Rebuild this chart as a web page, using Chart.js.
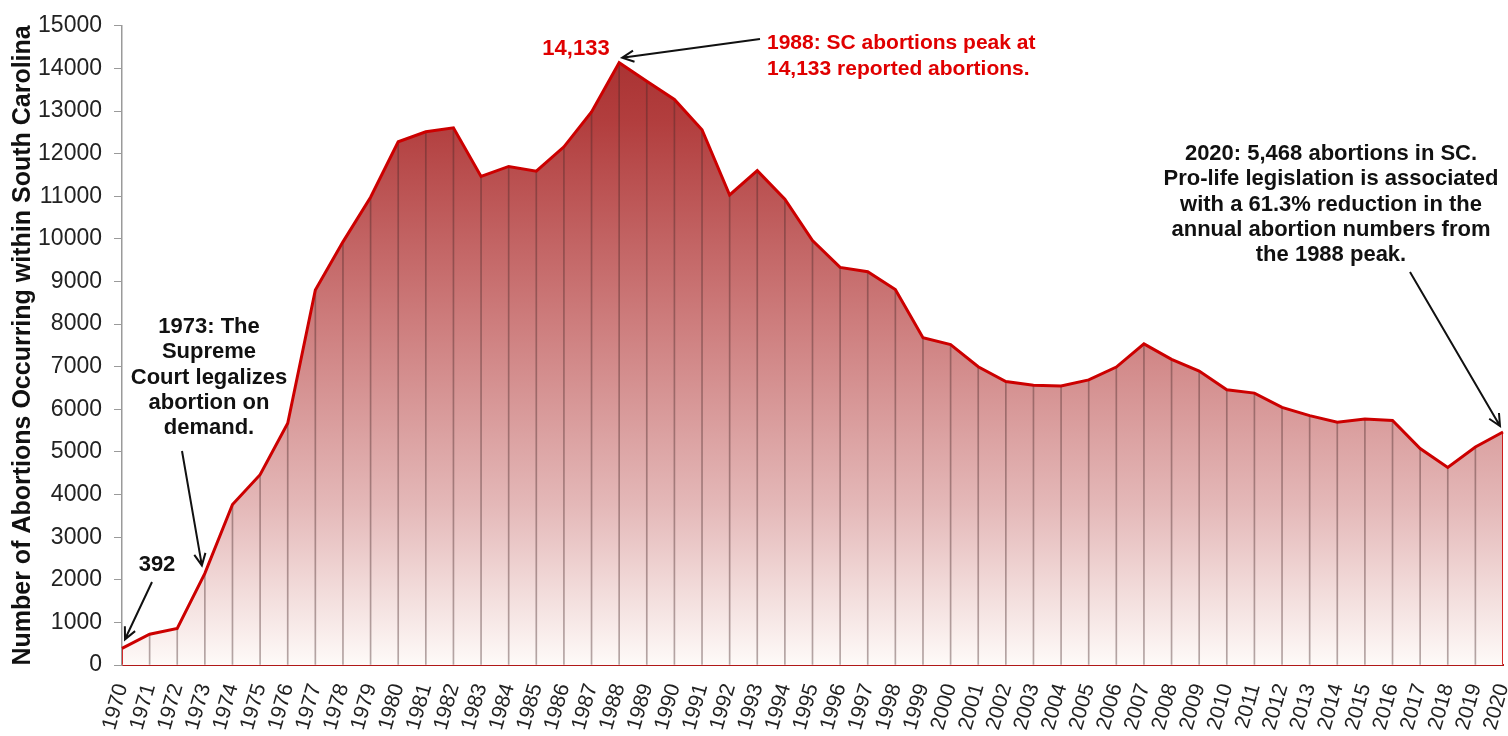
<!DOCTYPE html>
<html>
<head>
<meta charset="utf-8">
<script src="https://cdn.jsdelivr.net/npm/chart.js@4.4.0/dist/chart.umd.min.js"></script>
<style>
  html, body { margin: 0; padding: 0; background: #fff; }
  #wrap { width: 1508px; height: 736px; }
</style>
</head>
<body>
<div id="wrap"><canvas id="chart" width="1508" height="736"></canvas></div>
<script>
const years = [
    "1970", "1971", "1972", "1973", "1974", "1975", "1976", "1977", "1978", "1979",
    "1980", "1981", "1982", "1983", "1984", "1985", "1986", "1987", "1988", "1989",
    "1990", "1991", "1992", "1993", "1994", "1995", "1996", "1997", "1998", "1999",
    "2000", "2001", "2002", "2003", "2004", "2005", "2006", "2007", "2008", "2009",
    "2010", "2011", "2012", "2013", "2014", "2015", "2016", "2017", "2018", "2019",
    "2020"
];

// reported abortions per year
const abortions = [
    392, 721, 860, 2150, 3767, 4465, 5674, 8800, 9930, 10977,
    12279, 12512, 12605, 11465, 11700, 11590, 12160, 12980, 14133, 13700,
    13270, 12560, 11030, 11600, 10930, 9960, 9330, 9230, 8810, 7680,
    7520, 7000, 6651, 6566, 6550, 6690, 6992, 7535, 7171, 6899,
    6458, 6380, 6047, 5853, 5698, 5775, 5736, 5078, 4636, 5116,
    5468
];

const yMin = 0;
const yMax = 15000;
const yStep = 1000;
const axisTitle = "Number of Abortions Occurring within South Carolina";

const FONT = "'Liberation Sans', Arial, sans-serif";
const RED_LINE = "#cc0000";
const RED_TEXT = "#e00000";

// Function to build the vertical fill gradient
function areaGradient(context) {
    const area = context.chart.chartArea;
    if (!area) return "rgba(190,90,90,0.8)";
    const g = context.chart.ctx.createLinearGradient(0, area.top, 0, area.bottom);
    g.addColorStop(0, "rgb(165,44,44)");
    g.addColorStop(0.15, "rgb(178,62,62)");
    g.addColorStop(0.45, "rgb(204,122,122)");
    g.addColorStop(0.75, "rgb(228,184,184)");
    g.addColorStop(1, "rgb(254,250,248)");
    return g;
}

// Function to draw an open-headed arrow
function arrow(ctx, x1, y1, x2, y2) {
    const a = Math.atan2(y2 - y1, x2 - x1);
    const h = 13;
    ctx.beginPath();
    ctx.moveTo(x1, y1);
    ctx.lineTo(x2, y2);
    ctx.moveTo(x2 - h * Math.cos(a - 0.45), y2 - h * Math.sin(a - 0.45));
    ctx.lineTo(x2, y2);
    ctx.lineTo(x2 - h * Math.cos(a + 0.45), y2 - h * Math.sin(a + 0.45));
    ctx.stroke();
}

function textLines(ctx, lines, x, y, step) {
    lines.forEach((t, i) => ctx.fillText(t, x, y + i * step));
}

// annotations drawn on top of the chart
const notesPlugin = {
    id: "notes",
    afterDraw(chart) {
        const { ctx, scales: { x, y } } = chart;
        const pt = (i) => ({ x: x.getPixelForValue(i), y: y.getPixelForValue(abortions[i]) });
        const first = pt(0);
        const peak = pt(years.indexOf("1988"));
        const last = pt(years.length - 1);
        const y1973 = pt(years.indexOf("1973"));

        ctx.save();
        ctx.strokeStyle = "#111";
        ctx.lineWidth = 2;
        ctx.textBaseline = "middle";

        // 392
        ctx.fillStyle = "#111";
        ctx.font = "bold 22px " + FONT;
        ctx.textAlign = "center";
        ctx.fillText("392", 157, 565);
        arrow(ctx, 152, 582, first.x + 3, first.y - 9);

        // 1973 note
        textLines(ctx, ["1973: The", "Supreme", "Court legalizes", "abortion on", "demand."], 209, 327, 25.3);
        arrow(ctx, 182, 451, y1973.x - 3, y1973.y - 8);

        // 2020 note
        textLines(ctx, [
            "2020: 5,468 abortions in SC.",
            "Pro-life legislation is associated",
            "with a 61.3% reduction in the",
            "annual abortion numbers from",
            "the 1988 peak."
        ], 1331, 154, 25.3);
        arrow(ctx, 1410, 272, last.x - 3, last.y - 6);

        // peak note
        ctx.fillStyle = RED_TEXT;
        ctx.fillText("14,133", 576, 49);
        ctx.textAlign = "left";
        ctx.font = "bold 21px " + FONT;
        textLines(ctx, ["1988: SC abortions peak at", "14,133 reported abortions."], 767, 43, 26);
        arrow(ctx, 760, 39, peak.x + 3, peak.y - 5);

        ctx.restore();
    }
};

const ctx = document.getElementById("chart").getContext("2d");

new Chart(ctx, {
    type: "line",
    data: {
        labels: years,
        datasets: [
            {
                type: "line",
                data: abortions,
                borderColor: RED_LINE,
                borderWidth: 3,
                backgroundColor: areaGradient,
                fill: "origin",
                pointRadius: 0,
                tension: 0,
                order: 0,
            },
            {
                // thin drop lines under every point
                type: "bar",
                data: abortions,
                barThickness: 1,
                backgroundColor: abortions.map((v, i) =>
                    i === 0 || i === abortions.length - 1 ? RED_LINE : "rgba(70,40,40,0.4)"),
                order: 1,
            },
        ],
    },
    options: {
        responsive: false,
        animation: false,
        layout: { padding: { top: 20, right: 5, left: 0, bottom: 0 } },
        plugins: {
            legend: { display: false },
            tooltip: { enabled: false },
            filler: { drawTime: "beforeDatasetsDraw" },
        },
        scales: {
            x: {
                offset: false,
                grid: { display: false, offset: false },
                border: { display: true, color: "#b01818", width: 2 },
                ticks: {
                    autoSkip: false,
                    minRotation: 74,
                    maxRotation: 74,
                    padding: 8,
                    color: "#222",
                    font: { family: FONT, size: 21 },
                },
                afterFit: (scale) => {
                    scale.height = 71;
                    scale.paddingRight = 0;
                    scale.paddingLeft = 0;
                },
            },
            y: {
                min: yMin,
                max: yMax,
                grid: { drawOnChartArea: false, tickLength: 8, color: "#9a9a9a" },
                border: { color: "#9a9a9a", width: 1.5 },
                ticks: {
                    stepSize: yStep,
                    padding: 12,
                    color: "#222",
                    font: { family: FONT, size: 23 },
                    callback: (v) => String(v),
                },
                title: {
                    display: true,
                    text: axisTitle,
                    color: "#111",
                    font: { family: FONT, size: 25, weight: "bold" },
                    padding: { top: 8, bottom: 0 },
                },
                afterFit: (scale) => { scale.width = 122; },
            },
        },
    },
    plugins: [notesPlugin],
});
</script>
</body>
</html>
